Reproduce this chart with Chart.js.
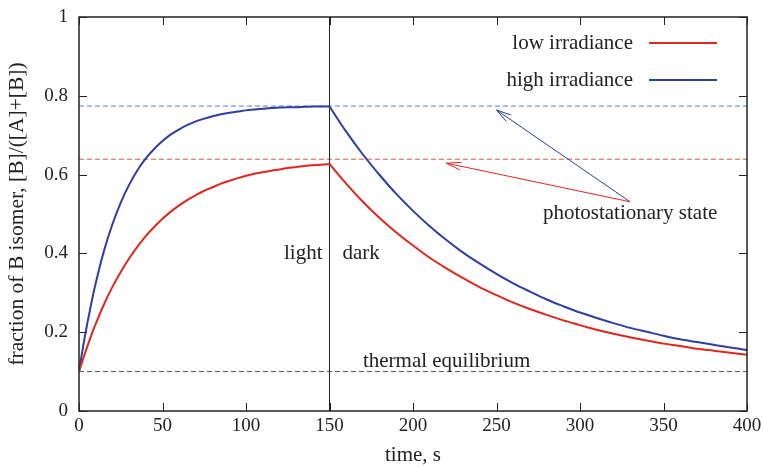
<!DOCTYPE html>
<html>
<head>
<meta charset="utf-8">
<script src="https://cdn.jsdelivr.net/npm/chart.js@4/dist/chart.umd.min.js"></script>
<style>
  html, body { margin: 0; padding: 0; background: #fff; }
  canvas { display: block; }
</style>
</head>
<body>
<canvas id="c" width="763" height="468"></canvas>
<script>
// Irradiation phase (light on), time in s
const lightTime = [0, 2.5, 5, 7.5, 10, 15, 20, 25, 30, 35, 40, 45, 50, 55, 60, 65, 70, 75, 80, 85,
                   90, 95, 100, 105, 110, 115, 120, 125, 130, 135, 140, 145, 150];
const lowLight  = [0.100, 0.133, 0.164, 0.194, 0.221, 0.271, 0.315, 0.353, 0.387, 0.417, 0.444,
                   0.467, 0.488, 0.506, 0.522, 0.536, 0.548, 0.559, 0.568, 0.577, 0.584, 0.591,
                   0.597, 0.602, 0.606, 0.610, 0.613, 0.617, 0.619, 0.622, 0.624, 0.625, 0.627];
const highLight = [0.100, 0.165, 0.223, 0.276, 0.324, 0.407, 0.474, 0.529, 0.574, 0.611, 0.641,
                   0.665, 0.685, 0.702, 0.715, 0.726, 0.735, 0.742, 0.748, 0.753, 0.757, 0.760,
                   0.763, 0.765, 0.767, 0.769, 0.770, 0.771, 0.771, 0.772, 0.773, 0.773, 0.773];

// Thermal relaxation phase (dark), time in s
const darkTime = [150, 160, 170, 180, 190, 200, 210, 220, 230, 240, 250, 260, 270, 280, 290,
                  300, 310, 320, 330, 340, 350, 360, 370, 380, 390, 400];
const lowDark  = [0.627, 0.577, 0.531, 0.490, 0.453, 0.420, 0.389, 0.362, 0.337, 0.314, 0.294,
                  0.275, 0.259, 0.244, 0.230, 0.218, 0.206, 0.196, 0.187, 0.179, 0.171, 0.165,
                  0.158, 0.153, 0.148, 0.143];
const highDark = [0.773, 0.709, 0.651, 0.599, 0.551, 0.508, 0.469, 0.434, 0.402, 0.374, 0.348,
                  0.324, 0.303, 0.283, 0.266, 0.250, 0.236, 0.223, 0.211, 0.201, 0.191, 0.182,
                  0.175, 0.168, 0.161, 0.155];

const seriesNames = ['low irradiance', 'high irradiance'];

// Reference levels
const pssLow = 0.639;       // photostationary state, low irradiance
const pssHigh = 0.774;      // photostationary state, high irradiance
const thermalEq = 0.1;      // thermal equilibrium
const switchOff = 150;      // light switched off

// Axis ticks
const xTicks = [0, 50, 100, 150, 200, 250, 300, 350, 400];
const yTicks = [0, 0.2, 0.4, 0.6, 0.8, 1];

// Annotation arrows: common tail, one head per level
const arrowTail = { x: 330, y: 0.531 };
const arrowHeads = [{ x: 220, y: 0.629 }, { x: 250, y: 0.764 }];

const RED = '#e0271d';
const BLUE = '#2e3ea2';
const RED_DASH = '#e2524a';
const BLUE_DASH = '#6276cc';
const GREY_DASH = '#555555';
const INK = '#222222';
const FONT = '"Liberation Serif", "Times New Roman", serif';
const TEXT_SIZE = 21;

function pts(t, v) { return t.map((ti, i) => ({ x: ti, y: v[i] })); }
function hLine(y) { return [{ x: xTicks[0], y: y }, { x: xTicks[xTicks.length - 1], y: y }]; }

// keep the plot frame fixed, independent of edge label overhang
function noEdgePadding(s) {
  s.paddingTop = 0; s.paddingBottom = 0; s.paddingLeft = 0; s.paddingRight = 0;
}

const decor = {
  id: 'decor',
  afterDatasetsDraw(chart) {
    const { ctx, chartArea: a, scales: { x, y } } = chart;
    ctx.save();

    // frame
    ctx.strokeStyle = INK;
    ctx.lineWidth = 1.5;
    ctx.strokeRect(a.left, a.top, a.right - a.left, a.bottom - a.top);

    // inward ticks on all four sides
    const tl = 8;
    ctx.lineWidth = 1;
    ctx.beginPath();
    xTicks.forEach(v => {
      const px = Math.round(x.getPixelForValue(v)) + 0.5;
      ctx.moveTo(px, a.bottom); ctx.lineTo(px, a.bottom - tl);
      ctx.moveTo(px, a.top); ctx.lineTo(px, a.top + tl);
    });
    yTicks.forEach(v => {
      const py = Math.round(y.getPixelForValue(v)) + 0.5;
      ctx.moveTo(a.left, py); ctx.lineTo(a.left + tl, py);
      ctx.moveTo(a.right, py); ctx.lineTo(a.right - tl, py);
    });
    ctx.stroke();

    // legend: label then line sample
    ctx.font = TEXT_SIZE + 'px ' + FONT;
    ctx.fillStyle = INK;
    ctx.textBaseline = 'middle';
    ctx.textAlign = 'right';
    [RED, BLUE].forEach((col, i) => {
      const ly = a.top + 26 + i * 37;
      ctx.fillText(seriesNames[i], a.right - 114, ly);
      ctx.strokeStyle = col;
      ctx.lineWidth = 2;
      ctx.beginPath();
      ctx.moveTo(a.right - 98, ly); ctx.lineTo(a.right - 30, ly);
      ctx.stroke();
    });

    // light / dark labels around the switch-off line
    const sx = x.getPixelForValue(switchOff);
    const ly = y.getPixelForValue(0.4);
    ctx.textAlign = 'right';
    ctx.fillText('light', sx - 7, ly);
    ctx.textAlign = 'left';
    ctx.fillText('dark', sx + 13, ly);

    // thermal equilibrium label
    ctx.textBaseline = 'alphabetic';
    ctx.textAlign = 'left';
    ctx.fillText('thermal equilibrium', x.getPixelForValue(170), y.getPixelForValue(0.111));

    // photostationary state label
    ctx.textAlign = 'center';
    ctx.fillText('photostationary state', x.getPixelForValue(arrowTail.x), y.getPixelForValue(0.487));

    // arrows
    const tx = x.getPixelForValue(arrowTail.x), ty = y.getPixelForValue(arrowTail.y);
    [RED, BLUE].forEach((col, i) => {
      const hx = x.getPixelForValue(arrowHeads[i].x), hy = y.getPixelForValue(arrowHeads[i].y);
      const ang = Math.atan2(ty - hy, tx - hx);
      const len = 15, spread = 0.26;
      ctx.strokeStyle = col;
      ctx.lineWidth = 1;
      ctx.beginPath();
      ctx.moveTo(tx, ty); ctx.lineTo(hx, hy);
      ctx.moveTo(hx + len * Math.cos(ang + spread), hy + len * Math.sin(ang + spread));
      ctx.lineTo(hx, hy);
      ctx.lineTo(hx + len * Math.cos(ang - spread), hy + len * Math.sin(ang - spread));
      ctx.stroke();
    });

    ctx.restore();
  }
};

const whiteBg = {
  id: 'whiteBg',
  beforeDraw(chart) {
    const { ctx, width, height } = chart;
    ctx.save();
    ctx.fillStyle = '#fff';
    ctx.fillRect(0, 0, width, height);
    ctx.restore();
  }
};

// each phase is a smooth monotone curve; the corner at switch-off stays sharp
const curve = (label, data, color) => ({
  label, data, borderColor: color, borderWidth: 2, order: 0, cubicInterpolationMode: 'monotone'
});

new Chart(document.getElementById('c'), {
  type: 'line',
  data: {
    datasets: [
      curve(seriesNames[0], pts(lightTime, lowLight), RED),
      curve(seriesNames[0], pts(darkTime, lowDark), RED),
      curve(seriesNames[1], pts(lightTime, highLight), BLUE),
      curve(seriesNames[1], pts(darkTime, highDark), BLUE),
      { label: 'pss low', data: hLine(pssLow), borderColor: RED_DASH, borderWidth: 1,
        borderDash: [5, 3], order: 2 },
      { label: 'pss high', data: hLine(pssHigh), borderColor: BLUE_DASH, borderWidth: 1,
        borderDash: [5, 3], order: 2 },
      { label: 'thermal', data: hLine(thermalEq), borderColor: GREY_DASH, borderWidth: 1,
        borderDash: [5, 3], order: 2 },
      { label: 'switch', data: [{ x: switchOff, y: yTicks[0] }, { x: switchOff, y: yTicks[yTicks.length - 1] }],
        borderColor: INK, borderWidth: 1, order: 1 }
    ]
  },
  options: {
    responsive: false,
    animation: false,
    devicePixelRatio: 1,
    layout: { padding: { top: 17, right: 16, left: 0, bottom: 0 } },
    elements: { point: { radius: 0 }, line: { tension: 0, fill: false } },
    plugins: { legend: { display: false }, tooltip: { enabled: false } },
    scales: {
      x: {
        type: 'linear', min: 0, max: 400,
        afterFit(s) { s.height = 57; noEdgePadding(s); },
        afterBuildTicks(s) { s.ticks = xTicks.map(v => ({ value: v })); },
        grid: { display: false, drawTicks: false },
        border: { display: false },
        ticks: { padding: 4, color: INK, font: { family: FONT, size: 19 }, maxRotation: 0 },
        title: { display: true, text: 'time, s', color: INK,
                 font: { family: FONT, size: 21 }, padding: { top: 0, bottom: 0 } }
      },
      y: {
        type: 'linear', min: 0, max: 1,
        afterFit(s) { s.width = 79; noEdgePadding(s); },
        afterBuildTicks(s) { s.ticks = yTicks.map(v => ({ value: v })); },
        grid: { display: false, drawTicks: false },
        border: { display: false },
        ticks: { padding: 11, color: INK, font: { family: FONT, size: 19 },
                 callback: v => (v === 0 || v === 1) ? String(v) : v.toFixed(1) },
        title: { display: true, text: 'fraction of B isomer, [B]/([A]+[B])', color: INK,
                 font: { family: FONT, size: 21.5 }, padding: { top: 4, bottom: 0 } }
      }
    }
  },
  plugins: [whiteBg, decor]
});
</script>
</body>
</html>
